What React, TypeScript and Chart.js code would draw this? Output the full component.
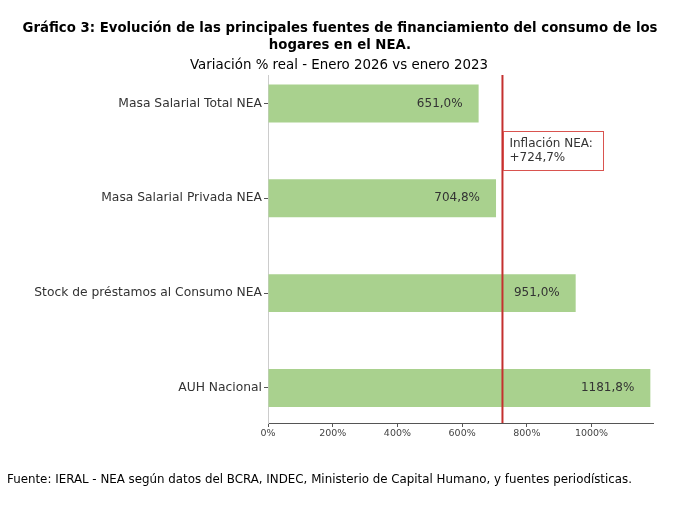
import React, { useEffect, useRef } from "react";
import { Chart, registerables } from "chart.js";

Chart.register(...registerables);

const categories = [
  "Masa Salarial Total NEA",
  "Masa Salarial Privada NEA",
  "Stock de préstamos al Consumo NEA",
  "AUH Nacional",
];
const values = [651.0, 704.8, 951.0, 1181.8];
const valueLabels = ["651,0%", "704,8%", "951,0%", "1181,8%"];
const xTickValues = [0, 200, 400, 600, 800, 1000];
const xTickLabels = ["0%", "200%", "400%", "600%", "800%", "1000%"];
const inflation = 724.7;
const inflationLabel = ["Inflación NEA:", "+724,7%"];
const titleLines = [
  "Gráfico 3: Evolución de las principales fuentes de financiamiento del consumo de los",
  "hogares en el NEA.",
];
const subtitle = "Variación % real - Enero 2026 vs enero 2023";
const source =
  "Fuente: IERAL - NEA según datos del BCRA, INDEC, Ministerio de Capital Humano, y fuentes periodísticas.";

const HEAD_FAMILY = '"DejaVu Sans", sans-serif';
const BODY_FAMILY = '"DejaVu Sans", sans-serif';

function drawSqueezed(
  ctx: CanvasRenderingContext2D,
  lines: string[],
  ys: number[],
  x: number,
  font: string,
  refWidth: number,
  align: CanvasTextAlign
) {
  ctx.font = font;
  const w = ctx.measureText(lines[0]).width;
  const f = Math.min(1, refWidth / w);
  ctx.textAlign = align;
  lines.forEach((t, i) => {
    ctx.save();
    ctx.translate(x, ys[i]);
    ctx.scale(f, 1);
    ctx.fillText(t, 0, 0);
    ctx.restore();
  });
}

const textPlugin = {
  id: "texts",
  afterDraw(chart: any) {
    const ctx: CanvasRenderingContext2D = chart.ctx;
    ctx.save();
    ctx.fillStyle = "#000";
    ctx.textBaseline = "middle";
    drawSqueezed(ctx, titleLines, [28, 45], 340, `bold 14px ${HEAD_FAMILY}`, 635, "center");
    drawSqueezed(ctx, [subtitle], [65], 339, `normal 14px ${HEAD_FAMILY}`, 298, "center");
    drawSqueezed(ctx, [source], [480], 7, `normal 13px ${HEAD_FAMILY}`, 625, "left");
    ctx.restore();
  },
};

const inflationPlugin = {
  id: "inflation",
  afterDatasetsDraw(chart: any) {
    const ctx: CanvasRenderingContext2D = chart.ctx;
    const xs = chart.scales.x;
    const ys = chart.scales.y;
    const area = chart.chartArea;
    const px = xs.getPixelForValue(inflation);
    ctx.save();
    const meta = chart.getDatasetMeta(0);
    ctx.font = `12px ${BODY_FAMILY}`;
    ctx.fillStyle = "#333";
    ctx.textAlign = "right";
    ctx.textBaseline = "middle";
    meta.data.forEach((bar: any, i: number) => {
      ctx.fillText(valueLabels[i], bar.x - 16, bar.y);
    });
    ctx.strokeStyle = "#c4302f";
    ctx.lineWidth = 2;
    ctx.beginPath();
    ctx.moveTo(px, area.top);
    ctx.lineTo(px, area.bottom);
    ctx.stroke();
    const cy = ys.getPixelForValue(0.5);
    const bx = px + 1;
    const bw = 100;
    const bh = 39;
    ctx.fillStyle = "#fff";
    ctx.fillRect(bx, cy - bh / 2, bw, bh);
    ctx.strokeStyle = "#d9534f";
    ctx.lineWidth = 1;
    ctx.strokeRect(Math.round(bx) + 0.5, Math.round(cy - bh / 2) + 0.5, bw, bh);
    ctx.fillStyle = "#333";
    ctx.textAlign = "left";
    ctx.fillText(inflationLabel[0], bx + 6, cy - 7);
    ctx.fillText(inflationLabel[1], bx + 6, cy + 7);
    ctx.restore();
  },
};

export default function App() {
  const ref = useRef<HTMLCanvasElement | null>(null);
  useEffect(() => {
    if (!ref.current) return;
    const chart = new Chart(ref.current, {
      type: "bar",
      data: {
        datasets: [
          {
            data: values.map((v, i) => ({ x: v, y: i })) as any,
            backgroundColor: "#a9d18e",
            borderWidth: 0,
            barPercentage: 0.4,
            categoryPercentage: 1,
          },
        ],
      },
      options: {
        indexAxis: "y",
        animation: false,
        responsive: false,
        devicePixelRatio: 1,
        layout: { padding: { top: 75, right: 40, bottom: 64, left: 0 } },
        plugins: { legend: { display: false }, tooltip: { enabled: false }, title: { display: false } },
        scales: {
          x: {
            type: "linear",
            min: 0,
            max: 1190,
            offset: false,
            afterBuildTicks: (s: any) => {
              s.ticks = xTickValues.map((v) => ({ value: v }));
            },
            afterFit: (s: any) => {
              s.height = 25;
            },
            ticks: {
              callback: (_v: any, i: number) => xTickLabels[i],
              font: { family: BODY_FAMILY, size: 9.5 },
              color: "#444",
              padding: 1,
              maxRotation: 0,
            },
            grid: { offset: false, drawOnChartArea: false, drawTicks: true, tickLength: 4, color: "#555" },
            border: { color: "#555", width: 1 },
          },
          y: {
            type: "linear",
            reverse: true,
            min: -0.3,
            max: 3.37,
            offset: false,
            afterBuildTicks: (s: any) => {
              s.ticks = categories.map((_c, i) => ({ value: i }));
            },
            afterFit: (s: any) => {
              s.width = 268;
            },
            ticks: {
              callback: (_v: any, i: number) => categories[i],
              font: { family: BODY_FAMILY, size: 12.3 },
              color: "#333",
              padding: 2,
            },
            grid: { offset: false, drawOnChartArea: false, drawTicks: true, tickLength: 4, color: "#555" },
            border: { color: "#ccc", width: 1 },
          },
        },
      } as any,
      plugins: [inflationPlugin, textPlugin],
    });
    return () => chart.destroy();
  }, []);
  return (
    <div style={{ position: "absolute", left: 0, top: 0, width: 693, height: 512, background: "#fff" }}>
      <canvas ref={ref} width={693} height={512} style={{ display: "block" }} />
    </div>
  );
}
